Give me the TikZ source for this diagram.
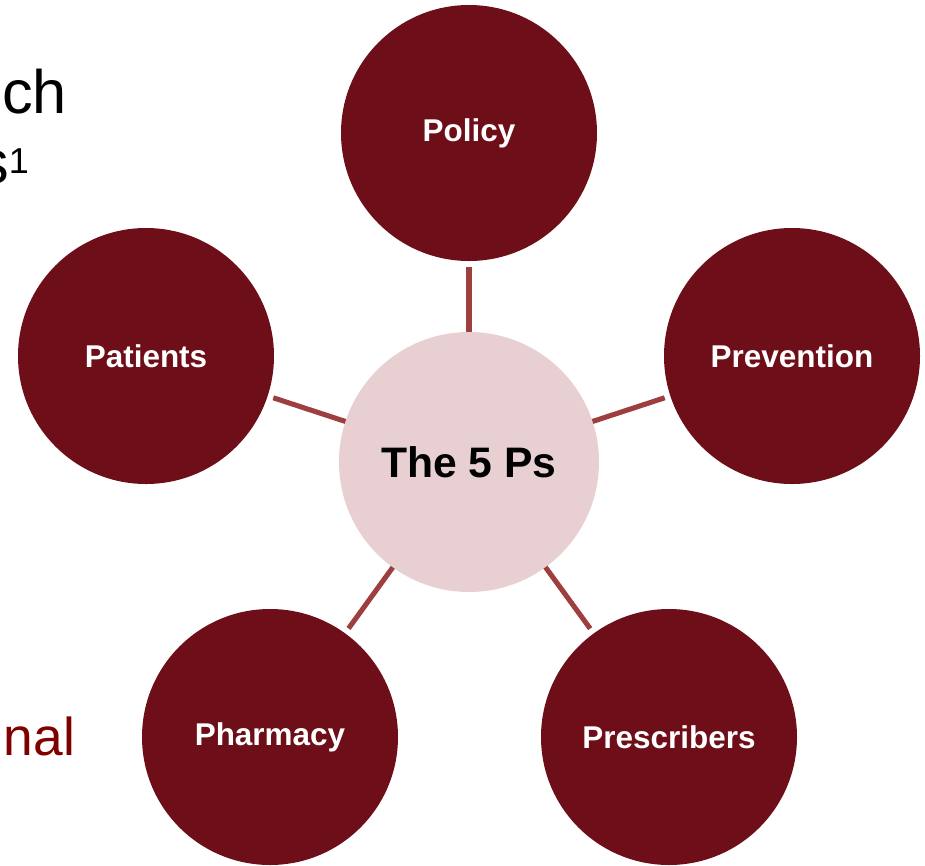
\documentclass[tikz,border=0pt]{standalone}
\usepackage{fontspec}
\setmainfont{Liberation Sans}
\definecolor{petal}{HTML}{6D0E18}
\definecolor{hub}{HTML}{E8D0D2}
\definecolor{spoke}{HTML}{9E3F3F}
\definecolor{maroon}{HTML}{800000}
\begin{document}
\begin{tikzpicture}[x=0.75pt,y=-0.75pt,
  petalnode/.style={circle,fill=petal,draw=none,minimum size=256*0.75pt,inner sep=0pt,outer sep=0pt,
    text=white,font=\fontsize{23.6pt}{28pt}\selectfont\bfseries},
  hubnode/.style={circle,fill=hub,draw=none,minimum size=260*0.75pt,inner sep=0pt,outer sep=0pt,
    text=black,font=\fontsize{32pt}{38pt}\selectfont\bfseries},
  spokeline/.style={draw=spoke,line width=3.8pt,shorten <=4.5pt},
  slidetext/.style={inner sep=0pt,outer sep=0pt}]
\useasboundingbox (0,0) rectangle (925,865);
\clip (0,0) rectangle (925,865);

% partially visible slide text on the left
\node[slidetext,anchor=base east] (t1) at (67,113) {\fontsize{46pt}{55pt}\selectfont ch};
\node[slidetext,anchor=base east] (t2) at (29,183) {\fontsize{46pt}{55pt}\selectfont s\raisebox{7.5pt}{\fontsize{27pt}{32pt}\selectfont 1}};
\node[slidetext,anchor=base east,text=maroon] (t3) at (75,755) {\fontsize{40pt}{48pt}\selectfont nal};

% hub and petals
\node[hubnode] (hub) at (469,462) {The 5 Ps};
\node[petalnode] (policy) at (469,133) {Policy};
\node[petalnode] (patients) at (146,356) {Patients};
\node[petalnode] (prevention) at (792,356) {Prevention};
\node[petalnode] (pharmacy) at (270,737) {Pharmacy};
\node[petalnode] (prescribers) at (669,737) {Prescribers};

% spokes
\foreach \p in {policy,patients,prevention,pharmacy,prescribers}
  \draw[spokeline] (\p) -- (hub);
\end{tikzpicture}
\end{document}
